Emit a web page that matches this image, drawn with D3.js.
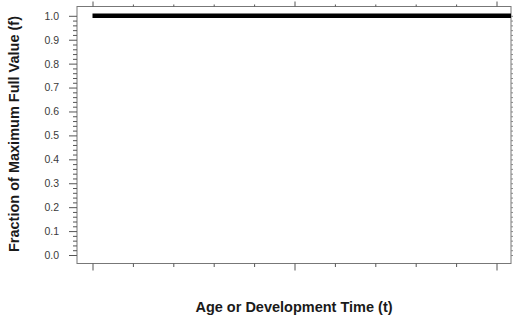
<!DOCTYPE html>
<html>
<head>
<meta charset="utf-8">
<script src="https://cdn.jsdelivr.net/npm/d3@7"></script>
<style>
  html, body { margin: 0; padding: 0; background: #fff; }
  svg { display: block; }
  text { font-family: "Liberation Sans", Arial, sans-serif; }
</style>
</head>
<body>
<script>
// Constant value curve: f stays at its full value over the whole time range
const times = [0, 11];
const fraction = [1.0, 1.0];

// Axis tick values
const yMajorTicks = [0.0, 0.1, 0.2, 0.3, 0.4, 0.5, 0.6, 0.7, 0.8, 0.9, 1.0];
const yTickLabels = ["0.0", "0.1", "0.2", "0.3", "0.4", "0.5", "0.6", "0.7", "0.8", "0.9", "1.0"];
const xMajorTicks = [0, 5, 10];
const xMinorTicks = [1, 2, 3, 4, 6, 7, 8, 9];

const xTitle = "Age or Development Time (t)";
const yTitle = "Fraction of Maximum Full Value (f)";

const W = 513, H = 320;
const box = { left: 77, right: 511, top: 6.5, bottom: 263.5 };

const svg = d3.select("body").append("svg")
  .attr("width", W).attr("height", H);

const x = d3.scaleLinear().domain([0, 10]).range([92.5, 496.5]);
const y = d3.scaleLinear().domain([0, 1]).range([255, 15.8]);

const yMinorTicks = d3.range(0, 101, 2).map(v => v / 100)
  .filter(v => Math.round(v * 100) % 10 !== 0);

const axisColor = "#555";

// Plot frame
svg.append("rect")
  .attr("x", box.left).attr("y", box.top)
  .attr("width", box.right - box.left).attr("height", box.bottom - box.top)
  .attr("fill", "none").attr("stroke", "#777").attr("stroke-width", 1);

// Left axis: labelled major ticks plus minor ticks
const yLeft = svg.append("g").attr("transform", `translate(${box.left},0)`);
yLeft.call(d3.axisLeft(y).tickValues(yMajorTicks)
  .tickFormat((d, i) => yTickLabels[i]).tickSize(8).tickPadding(10));
yLeft.append("g").call(d3.axisLeft(y).tickValues(yMinorTicks).tickSize(4).tickFormat(""));
yLeft.selectAll(".domain").remove();
yLeft.selectAll("line").attr("stroke", axisColor);
yLeft.selectAll("text")
  .attr("fill", "#3a3a3a").style("font-size", "10.5px")
  .style("font-family", "'Liberation Sans', Arial, sans-serif");

// Right axis: small unlabelled ticks
const yRight = svg.append("g").attr("transform", `translate(${box.right},0)`);
yRight.call(d3.axisRight(y).tickValues(yMajorTicks.concat(yMinorTicks)).tickSize(3).tickFormat(""));
yRight.selectAll(".domain").remove();
yRight.selectAll("line").attr("stroke", "#888");

// Bottom and top axes: ticks only
function timeAxis(g, axisFn, major, minor) {
  g.call(axisFn(x).tickValues(xMajorTicks).tickSize(major).tickFormat(""));
  g.append("g").call(axisFn(x).tickValues(xMinorTicks).tickSize(minor).tickFormat(""));
  g.selectAll(".domain").remove();
  g.selectAll("line").attr("stroke", axisColor);
}
timeAxis(svg.append("g").attr("transform", `translate(0,${box.bottom})`), d3.axisBottom, 7, 3.5);
timeAxis(svg.append("g").attr("transform", `translate(0,${box.top})`), d3.axisTop, 5, 2);

// Clip the curve to the plot frame
svg.append("clipPath").attr("id", "plot-clip")
  .append("rect")
  .attr("x", box.left).attr("y", box.top)
  .attr("width", box.right - box.left).attr("height", box.bottom - box.top);

const line = d3.line().x((d, i) => x(times[i])).y(d => y(d));
svg.append("path")
  .datum(fraction)
  .attr("clip-path", "url(#plot-clip)")
  .attr("d", line)
  .attr("fill", "none")
  .attr("stroke", "#000")
  .attr("stroke-width", 4.5)
  .attr("stroke-linecap", "butt");

// Axis titles
svg.append("text")
  .attr("x", 294).attr("y", 311.5)
  .attr("text-anchor", "middle")
  .attr("font-weight", "bold").attr("font-size", 14.5)
  .attr("fill", "#1a1a1a")
  .text(xTitle);

svg.append("text")
  .attr("transform", "translate(18.5,134) rotate(-90)")
  .attr("text-anchor", "middle")
  .attr("font-weight", "bold").attr("font-size", 14.5)
  .attr("fill", "#1a1a1a")
  .text(yTitle);
</script>
</body>
</html>
